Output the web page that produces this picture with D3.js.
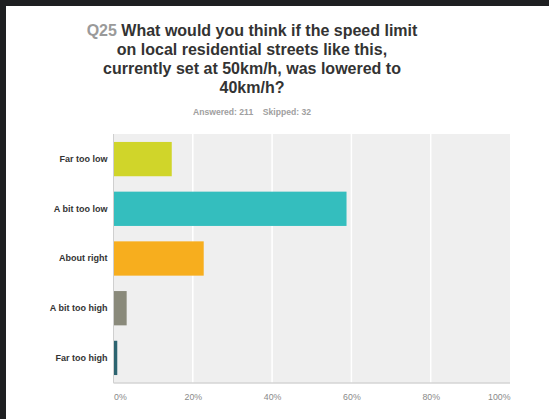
<!DOCTYPE html>
<html>
<head>
<meta charset="utf-8">
<script src="https://cdn.jsdelivr.net/npm/d3@7"></script>
<style>
  html, body { margin: 0; padding: 0; background: #1e1f21; }
  svg { display: block; }
  text { font-family: "Liberation Sans", Arial, Helvetica, sans-serif; }
</style>
</head>
<body>
<svg id="chart" width="549" height="419"></svg>
<script>
// Survey question Q25: answer choices and share of respondents (%)
const categories = ["Far too low", "A bit too low", "About right", "A bit too high", "Far too high"];
const values = [14.69, 58.77, 22.75, 3.32, 0.95];
const barColors = ["#d0d52a", "#34bebe", "#f7ae1e", "#8a8a7b", "#2c6470"];
const tickValues = [0, 20, 40, 60, 80, 100];
const tickLabels = ["0%", "20%", "40%", "60%", "80%", "100%"];
const titleLines = [
  "What would you think if the speed limit",
  "on local residential streets like this,",
  "currently set at 50km/h, was lowered to",
  "40km/h?"
];
const questionId = "Q25";
const answered = 211, skipped = 32;

const svg = d3.select("#chart");
const W = 549, H = 419;

// page panel on dark backdrop
svg.append("rect").attr("x", 0).attr("y", 0).attr("width", W).attr("height", H).attr("fill", "#1e1f21");
svg.append("rect").attr("x", 6).attr("y", 6).attr("width", W - 6).attr("height", H - 6).attr("fill", "#ffffff");

// title
const cx = 252;
const title = svg.append("g");
titleLines.forEach((line, i) => {
  const t = title.append("text")
    .attr("x", cx).attr("y", 36 + i * 19)
    .attr("text-anchor", "middle")
    .attr("font-size", 16).attr("font-weight", "bold").attr("fill", "#333333");
  if (i === 0) {
    t.append("tspan").attr("fill", "#9a9a9a").text(questionId + " ");
  }
  t.append("tspan").text(line);
});

svg.append("text")
  .attr("x", cx).attr("y", 115)
  .attr("text-anchor", "middle")
  .attr("font-size", 8.6).attr("font-weight", "bold").attr("fill", "#a0a0a0")
  .attr("xml:space", "preserve")
  .text(`Answered: ${answered}    Skipped: ${skipped}`);

// plot area
const plot = { left: 113.5, right: 510, top: 134, bottom: 383 };
const x = d3.scaleLinear().domain([0, 100]).range([plot.left, plot.right]);
const y = d3.scaleBand().domain(categories).range([plot.top, plot.bottom]).paddingInner(0.31).paddingOuter(0.16);

svg.append("rect")
  .attr("x", plot.left).attr("y", plot.top)
  .attr("width", plot.right - plot.left).attr("height", plot.bottom - plot.top)
  .attr("fill", "#efefef");

// vertical gridlines
svg.append("g").selectAll("line")
  .data(tickValues.slice(1, -1))
  .join("line")
  .attr("x1", d => x(d)).attr("x2", d => x(d))
  .attr("y1", plot.top).attr("y2", plot.bottom)
  .attr("stroke", "#ffffff").attr("stroke-width", 1.5);

// bars
svg.append("g").selectAll("rect")
  .data(categories)
  .join("rect")
  .attr("x", x(0))
  .attr("y", d => y(d))
  .attr("width", (d, i) => x(values[i]) - x(0))
  .attr("height", y.bandwidth())
  .attr("fill", (d, i) => barColors[i]);

// axis lines
svg.append("line")
  .attr("x1", plot.left).attr("x2", plot.left)
  .attr("y1", plot.top).attr("y2", plot.bottom)
  .attr("stroke", "#cfcfcf").attr("stroke-width", 1);
svg.append("line")
  .attr("x1", plot.left).attr("x2", plot.right)
  .attr("y1", plot.bottom).attr("y2", plot.bottom)
  .attr("stroke", "#d4d4d4").attr("stroke-width", 1.5);

// category labels
const yAxis = d3.axisLeft(y).tickSize(0).tickPadding(6);
const gy = svg.append("g").attr("transform", `translate(${plot.left},0)`).call(yAxis);
gy.select(".domain").remove();
gy.selectAll("text")
  .attr("font-size", 9).attr("font-weight", "bold").attr("fill", "#333333")
  .style("font-family", '"Liberation Sans", Arial, sans-serif');

// percentage ticks
const xAxis = d3.axisBottom(x).tickValues(tickValues).tickFormat((d, i) => tickLabels[i]).tickSize(0).tickPadding(11);
const gx = svg.append("g").attr("transform", `translate(0,${plot.bottom})`).call(xAxis);
gx.select(".domain").remove();
gx.selectAll("text")
  .attr("font-size", 8.8).attr("fill", "#8a8a8a")
  .style("font-family", '"Liberation Sans", Arial, sans-serif')
  .attr("text-anchor", (d, i) => i === 0 ? "start" : (i === tickValues.length - 1 ? "end" : "middle"));
</script>
</body>
</html>
